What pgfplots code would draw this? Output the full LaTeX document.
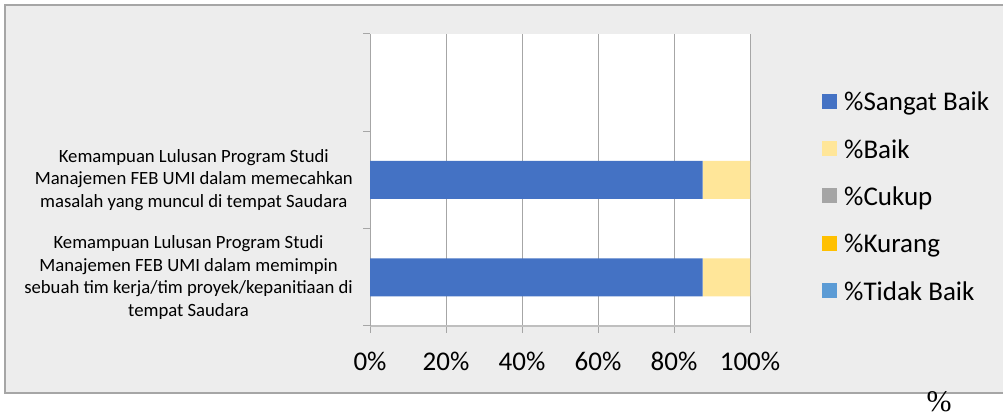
\documentclass[border=0pt]{standalone}
\usepackage{fontspec}
\setmainfont{Carlito}
\newfontfamily\seriffont{Liberation Serif}
\usepackage{pgfplots}
\pgfplotsset{compat=1.18}
\definecolor{sb}{HTML}{4472C4}
\definecolor{bk}{HTML}{FFE699}
\definecolor{ck}{HTML}{A5A5A5}
\definecolor{kr}{HTML}{FFC000}
\definecolor{tb}{HTML}{5B9BD5}
\definecolor{bg}{HTML}{EDEDED}
\definecolor{fr}{HTML}{A6A6A6}
\definecolor{gl}{HTML}{A6A6A6}
\definecolor{xl}{HTML}{BFBFBF}
\begin{document}
\begin{tikzpicture}[x=1pt,y=1pt]
\useasboundingbox (0,0) rectangle (1003,417);
\fill[bg] (5,24) rectangle (1010,412);
\draw[fr, line width=1.5pt] (1010,412) -- (5,412) -- (5,24) -- (1010,24);
\begin{axis}[
 at={(370pt,91pt)}, anchor=south west,
 scale only axis, width=380pt, height=292pt,
 xbar stacked, bar width=38pt,
 xmin=0, xmax=100, ymin=-0.5, ymax=2.5,
 axis background/.style={fill=white},
 axis x line*=bottom, axis y line*=left,
 x axis line style={draw=xl, line width=2pt, -},
 y axis line style={draw=gl, line width=1pt, -},
 xtick={0,20,40,60,80,100},
 xticklabels={0\%,20\%,40\%,60\%,80\%,100\%},
 xmajorgrids, grid style={draw=gl, line width=1pt},
 tick align=outside, major tick length=7pt,
 tick style={draw=gl, line width=1pt},
 ytick={-0.5,0.5,1.5,2.5}, yticklabels={,,,},
 extra y ticks={0,1},
 extra y tick labels={{Kemampuan Lulusan Program Studi\\Manajemen FEB UMI dalam memimpin\\sebuah tim kerja/tim proyek/kepanitiaan di\\tempat Saudara},{Kemampuan Lulusan Program Studi\\Manajemen FEB UMI dalam memecahkan\\masalah yang muncul di tempat Saudara}},
 extra y tick style={major tick length=0pt, yticklabel style={align=center, font=\fontsize{18.7}{22.6}\selectfont, inner xsep=0pt, xshift=-17pt}},
 xticklabel style={font=\fontsize{27}{32}\selectfont, inner ysep=0pt, yshift=-19pt},
 legend image code/.code={\fill[#1] (0pt,-4.8pt) rectangle (15pt,10.2pt);},
 legend cell align=left,
 legend style={at={(1.1895,0.806)}, anchor=north west, draw=none, fill=none, inner sep=0pt, row sep=21.3pt,
   font=\fontsize{27}{32}\selectfont,
   nodes={inner sep=0pt, text height=20pt, text depth=6pt},
   /tikz/every odd column/.append style={column sep=7pt}},
]
\addplot[fill=sb, draw=none] coordinates {(87.5,0) (87.5,1)};
\addplot[fill=bk, draw=none] coordinates {(12.5,0) (12.5,1)};
\addplot[fill=ck, draw=none] coordinates {(0,0) (0,1)};
\addplot[fill=kr, draw=none] coordinates {(0,0) (0,1)};
\addplot[fill=tb, draw=none] coordinates {(0,0) (0,1)};
\legend{\%Sangat Baik,\%Baik,\%Cukup,\%Kurang,\%Tidak Baik}
\end{axis}
\node[font=\seriffont\fontsize{30}{36}\selectfont, anchor=base, inner sep=0pt] at (939,5) {\%};
\end{tikzpicture}
\end{document}
